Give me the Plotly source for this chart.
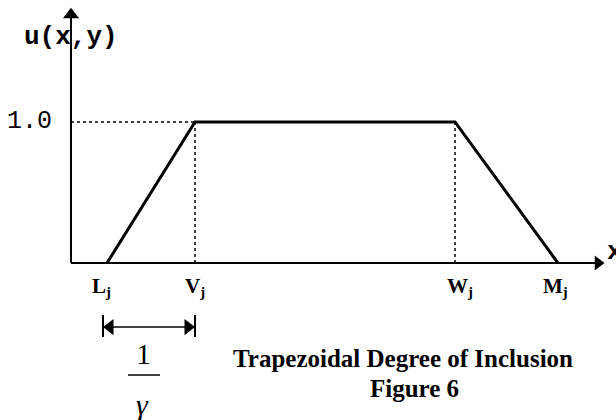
import plotly.graph_objects as go

# ── diagram data ──────────────────────────────────────────────────────────────
point_names = ["L", "V", "W", "M"]
point_x = [0.36, 1.24, 3.84, 4.87]      # L_j, V_j, W_j, M_j
membership = [0.0, 1.0, 1.0, 0.0]        # u(x, y) at those points
top_level = 1.0
x_axis_end = 5.30
y_axis_end = 1.80
dim_level = -0.454                       # height of the 1/gamma dimension line

L, V, W, M = point_x

fig = go.Figure()

black = "black"

# ── axes with arrowheads ──────────────────────────────────────────────────────
fig.add_trace(go.Scatter(x=[0, 0], y=[0, y_axis_end - 0.05], mode="lines",
                         line=dict(color=black, width=2)))
fig.add_trace(go.Scatter(x=[0, x_axis_end - 0.05], y=[0, 0], mode="lines",
                         line=dict(color=black, width=2)))
fig.add_trace(go.Scatter(x=[0], y=[y_axis_end - 0.04], mode="markers",
                         marker=dict(symbol="triangle-up", size=14, color=black)))
fig.add_trace(go.Scatter(x=[x_axis_end - 0.03], y=[0], mode="markers",
                         marker=dict(symbol="triangle-right", size=13, color=black)))

# ── dotted guides ─────────────────────────────────────────────────────────────
fig.add_trace(go.Scatter(x=[0, V], y=[top_level, top_level], mode="lines",
                         line=dict(color=black, width=1.5, dash="dot")))
for xv in (V, W):
    fig.add_trace(go.Scatter(x=[xv, xv], y=[0, top_level], mode="lines",
                             line=dict(color=black, width=1.5, dash="dot")))

# ── trapezoid ────────────────────────────────────────────────────────────────
fig.add_trace(go.Scatter(x=point_x, y=membership, mode="lines",
                         line=dict(color=black, width=3)))

# ── 1/gamma dimension ─────────────────────────────────────────────────────────
fig.add_trace(go.Scatter(x=[L - 0.04, V], y=[dim_level, dim_level], mode="lines",
                         line=dict(color=black, width=1.5)))
for xv in (L - 0.04, V):
    fig.add_trace(go.Scatter(x=[xv, xv], y=[dim_level + 0.085, dim_level - 0.07],
                             mode="lines", line=dict(color=black, width=2)))
fig.add_trace(go.Scatter(x=[L + 0.03, V - 0.07], y=[dim_level, dim_level],
                         mode="markers",
                         marker=dict(symbol=["triangle-left", "triangle-right"],
                                     size=14, color=black)))
fig.add_shape(type="line", x0=0.57, x1=0.89, y0=-0.794, y1=-0.794,
              line=dict(color=black, width=1.5))

serif = "Liberation Serif"
mono = "Liberation Mono"

ann = [
    dict(x=0, y=1.603, text="<b>u(x,y)</b>", font=dict(family=mono, size=26)),
    dict(x=-0.17, y=top_level, text="1.0", xanchor="right",
         font=dict(family=mono, size=25)),
    dict(x=x_axis_end + 0.04, y=0.08, text="<b>x</b>", xanchor="left",
         font=dict(family=mono, size=26)),
    dict(x=0.72, y=-0.638, text="1", font=dict(family=serif, size=30)),
    dict(x=0.71, y=-1.0, text="<i>γ</i>", font=dict(family=serif, size=30)),
    dict(x=3.32, y=-0.674, text="<b>Trapezoidal Degree of Inclusion</b>",
         font=dict(family=serif, size=25)),
    dict(x=3.43, y=-0.887, text="<b>Figure 6</b>",
         font=dict(family=serif, size=25)),
]
label_shift = {"L": -6, "V": 0, "W": 5, "M": -3}
for name, xv in zip(point_names, point_x):
    ann.append(dict(x=xv, y=-0.17, xshift=label_shift[name],
                    text=f"<b>{name}<sub>j</sub></b>",
                    font=dict(family=serif, size=21)))
for a in ann:
    a.setdefault("showarrow", False)
    a["font"]["color"] = black

fig.update_layout(
    width=616, height=420,
    margin=dict(l=0, r=0, t=0, b=0),
    paper_bgcolor="white", plot_bgcolor="white",
    showlegend=False,
    xaxis=dict(range=[-0.71, 5.45], visible=False, fixedrange=True),
    yaxis=dict(range=[-1.113, 1.865], visible=False, fixedrange=True),
    annotations=ann,
)

# drop the browser's default body margin so the figure fills the window
fig.write_html("out.html", config={"displayModeBar": False},
               post_script="document.body.style.margin='0';")
